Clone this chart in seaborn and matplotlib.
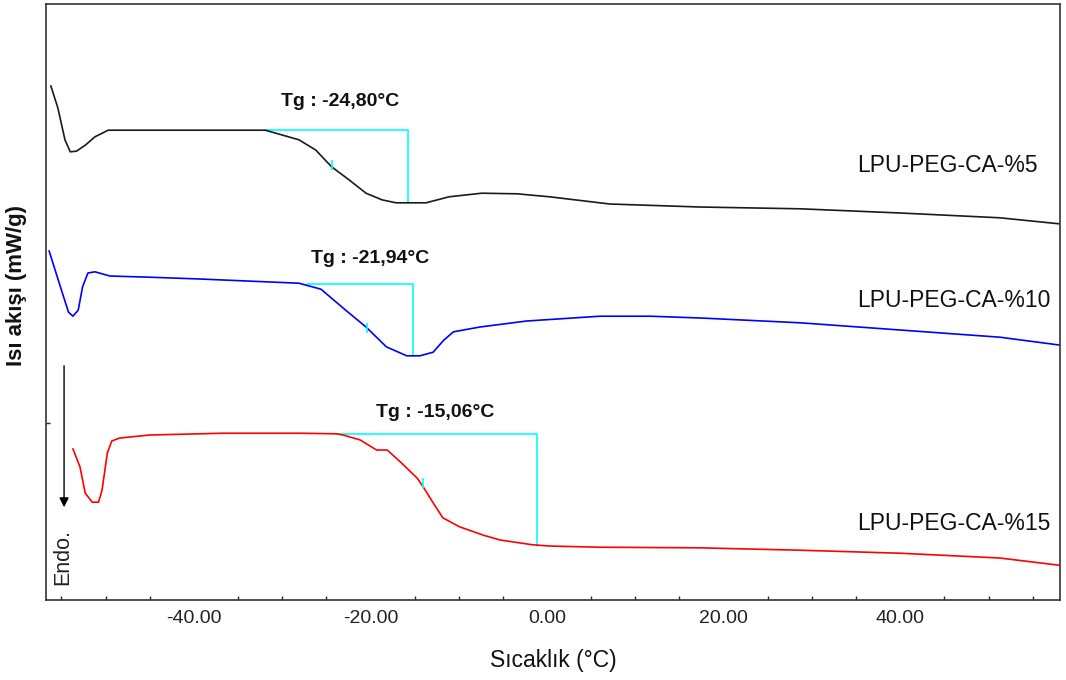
import numpy as np
import pandas as pd
import matplotlib
matplotlib.use("Agg")
import matplotlib.pyplot as plt
import seaborn as sns

# Sıcaklık (°C) ve ısı akışı (keyfi birim, mW/g)
t_pct5 = [-56.2, -55.4, -54.6, -54.0, -53.3, -52.3, -51.2, -49.7, -40.0, -31.9, -28.1, -26.2,
          -24.4, -22.4, -20.5, -18.7, -17.1, -13.7, -11.1, -7.4, -3.4, 0.3, 7.1, 17.3, 28.7,
          40.0, 51.3, 58.0]
hf_pct5 = [8.57, 8.20, 7.67, 7.47, 7.48, 7.58, 7.72, 7.83, 7.83, 7.83, 7.67, 7.50,
           7.22, 7.00, 6.78, 6.67, 6.62, 6.62, 6.72, 6.78, 6.77, 6.72, 6.60, 6.55, 6.52,
           6.45, 6.37, 6.27]

t_pct10 = [-56.4, -54.9, -54.2, -53.7, -53.1, -52.6, -52.0, -51.2, -49.5, -45.0, -39.3, -28.1,
           -25.6, -22.8, -20.5, -18.2, -15.9, -14.4, -12.9, -11.7, -10.6, -7.6, -2.3, 6.0,
           11.7, 17.4, 28.7, 40.0, 51.3, 58.0]
hf_pct10 = [5.82, 5.12, 4.80, 4.73, 4.83, 5.22, 5.45, 5.47, 5.40, 5.38, 5.35, 5.28,
            5.18, 4.83, 4.55, 4.22, 4.07, 4.07, 4.13, 4.33, 4.47, 4.55, 4.65, 4.73,
            4.73, 4.70, 4.62, 4.50, 4.38, 4.25]

t_pct15 = [-53.7, -52.9, -52.3, -51.5, -50.8, -50.4, -49.8, -49.3, -48.4, -45.0, -36.7, -30.6,
           -28.1, -23.8, -23.1, -21.2, -19.3, -18.1, -16.6, -14.7, -14.0, -12.9, -11.8, -9.9,
           -7.2, -5.3, -1.6, 0.3, 6.0, 17.3, 28.7, 40.0, 51.3, 58.0]
hf_pct15 = [2.52, 2.22, 1.78, 1.63, 1.63, 1.83, 2.45, 2.65, 2.70, 2.75, 2.78, 2.78,
            2.78, 2.77, 2.75, 2.67, 2.50, 2.50, 2.30, 2.03, 1.88, 1.62, 1.37, 1.22,
            1.08, 1.00, 0.92, 0.90, 0.88, 0.87, 0.83, 0.78, 0.70, 0.58]

samples = ["LPU-PEG-CA-%5", "LPU-PEG-CA-%10", "LPU-PEG-CA-%15"]
colors = ["#1a1a1a", "#0000ff", "#ff0000"]

# Tg analiz çizgileri (başlangıç, bitiş, üst ve alt seviye)
tg_labels = ["Tg : -24,80°C", "Tg : -21,94°C", "Tg : -15,06°C"]
tg_start = [-31.9, -27.2, -23.8]
tg_end = [-15.7, -15.2, -1.1]
tg_top = [7.83, 5.27, 2.77]
tg_bottom = [6.62, 4.07, 0.90]
tg_mark_t = [-24.35, -20.4, -14.0]
tg_mark_hf = [7.25, 4.53, 1.95]

frames = []
for name, t, hf in zip(samples, [t_pct5, t_pct10, t_pct15], [hf_pct5, hf_pct10, hf_pct15]):
    frames.append(pd.DataFrame({"T": t, "HF": hf, "Numune": name}))
data = pd.concat(frames, ignore_index=True)

sns.set_style("white")
plt.rcParams['font.family'] = ['Liberation Sans', 'DejaVu Sans']

fig = plt.figure(figsize=(10.66, 6.8), dpi=100)
ax = fig.add_axes([0.0432, 0.1176, 0.9512, 0.8765])

sns.lineplot(data=data, x="T", y="HF", hue="Numune", palette=dict(zip(samples, colors)),
             sort=False, estimator=None, linewidth=1.2, legend=False, ax=ax)

for i in range(3):
    ax.plot([tg_start[i], tg_end[i], tg_end[i]], [tg_top[i], tg_top[i], tg_bottom[i]],
            color="#00ffff", linewidth=1.2, zorder=1)
    ax.plot(tg_mark_t[i], tg_mark_hf[i], marker="|", markersize=7, color="#00ffff",
            markeredgewidth=1.2)

# Etiketler
tg_text_pos = [(-23.4, 8.30), (-20.0, 5.70), (-12.7, 3.13)]
for lbl, (x, y) in zip(tg_labels, tg_text_pos):
    ax.text(x, y, lbl, ha="center", va="center", fontsize=14, fontweight="bold",
            color="#111111")

sample_pos = [7.25, 5.00, 1.28]
for name, y in zip(samples, sample_pos):
    ax.text(35.1, y, name, ha="left", va="center", fontsize=16.5, color="#111111")

# Endo oku
ax.annotate("", xy=(-54.7, 1.50), xytext=(-54.7, 3.95),
            arrowprops=dict(arrowstyle="-|>", color="black", lw=1.0, mutation_scale=14))
ax.text(-54.9, 0.72, "Endo.", rotation=90, ha="center", va="center", fontsize=15.5,
        color="#222222")

ax.set_xlim(-56.74, 58.1)
ax.set_ylim(0, 9.933)
ax.set_xticks([-40, -20, 0, 20, 40])
ax.set_xticklabels(["-40.00", "-20.00", "0.00", "20.00", "40.00"], fontsize=14,
                   color="#222222")
ax.set_xticks(np.arange(-55, 58, 5), minor=True)
ax.set_yticks([2.95])
ax.set_yticklabels([""])
ax.tick_params(axis="x", which="major", direction="in", length=5, width=1, pad=7)
ax.tick_params(axis="x", which="minor", direction="in", length=3, width=1, bottom=True)
ax.tick_params(axis="y", direction="in", length=3, width=1, left=True)

ax.set_xlabel("Sıcaklık (°C)", fontsize=16.5, labelpad=16, color="#111111")
ax.set_ylabel("Isı akışı (mW/g)", fontsize=16, fontweight="bold", color="#111111")
ax.yaxis.set_label_coords(-0.0185, 0.528)

for s in ax.spines.values():
    s.set_color("#333333")
    s.set_linewidth(1.2)

fig.savefig("out.png", dpi=100)
